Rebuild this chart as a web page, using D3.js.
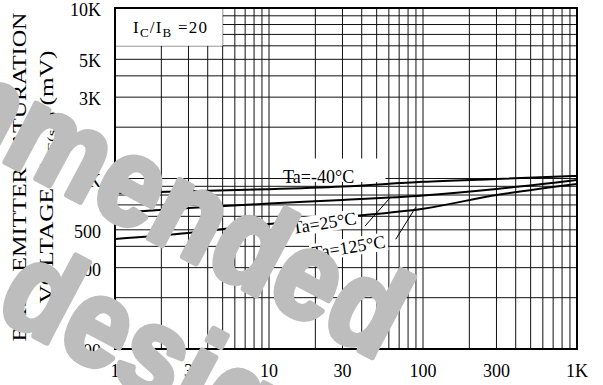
<!DOCTYPE html>
<html lang="en">
<head>
<meta charset="UTF-8">
<title>VBE(sat) - IC</title>
<style>
  body { margin: 0; background: #fff; }
  text { font-family: "Liberation Serif", "Times New Roman", serif; fill: #000; }
</style>
</head>
<body>
<div id="chart"></div>
<script src="https://d3js.org/d3.v7.min.js"></script>
<script>

// collector current (mA) where the curves were read
var currents = [1, 3, 10, 30, 100, 300, 1000];
// base-emitter saturation voltage (mV)
var vbeMinus40 = [822, 843, 865, 897, 957, 993, 1035];
var vbe25 = [628, 671, 713, 748, 795, 868, 980];
var vbe125 = [442, 479, 541, 595, 665, 800, 929];

var xTickValues = [1, 3, 10, 30, 100, 300, 1000];
var xTickLabels = ["1", "3", "10", "30", "100", "300", "1K"];
var yTickValues = [100, 300, 500, 1000, 3000, 5000, 10000];
var yTickLabels = ["100", "300", "500", "1K", "3K", "5K", "10K"];

var width = 603, height = 385;
var margin = {top: 8, right: 26, bottom: 36, left: 115};

var svg = d3.select("#chart").append("svg")
    .attr("width", width)
    .attr("height", height);

var x = d3.scaleLog().domain([1, 1000]).range([margin.left, width - margin.right]);
var y = d3.scaleLog().domain([100, 10000]).range([height - margin.bottom, margin.top]);

// 1..9 in every decade
function decadeValues(lo, hi) {
    var out = [];
    for (var d = lo; d < hi; d *= 10) {
        for (var k = 1; k < 10; k++) out.push(d * k);
    }
    out.push(hi);
    return out;
}

var grid = svg.append("g");
grid.selectAll("line.v")
    .data(decadeValues(1, 1000))
    .enter().append("line")
    .attr("class", "v")
    .attr("x1", function(d) { return x(d); })
    .attr("x2", function(d) { return x(d); })
    .attr("y1", y(10000))
    .attr("y2", y(100))
    .attr("stroke", "#111")
    .attr("stroke-width", 1);

grid.selectAll("line.h")
    .data(decadeValues(100, 10000))
    .enter().append("line")
    .attr("class", "h")
    .attr("y1", function(d) { return y(d); })
    .attr("y2", function(d) { return y(d); })
    .attr("x1", x(1))
    .attr("x2", x(1000))
    .attr("stroke", "#111")
    .attr("stroke-width", 1);

// condition box in the top left corner
svg.append("rect")
    .attr("x", x(1) + 1)
    .attr("y", y(10000) + 1)
    .attr("width", x(5) - x(1) - 1)
    .attr("height", y(6000) - y(10000) - 1)
    .attr("fill", "#fff");

var cond = svg.append("text")
    .attr("x", x(1) + 18)
    .attr("y", y(10000) + 25)
    .attr("font-size", 17)
    .attr("textLength", 74)
    .attr("lengthAdjust", "spacing");
cond.append("tspan").text("I");
cond.append("tspan").attr("font-size", 13).attr("dy", 4).text("C");
cond.append("tspan").attr("dy", -4).text("/I");
cond.append("tspan").attr("font-size", 13).attr("dy", 4).text("B");
cond.append("tspan").attr("dy", -4).text(" =20");

// curves
var series = [vbeMinus40, vbe25, vbe125];
var line = d3.line()
    .x(function(d) { return x(d[0]); })
    .y(function(d) { return y(d[1]); })
    .curve(d3.curveMonotoneX);

svg.selectAll("path.curve")
    .data(series)
    .enter().append("path")
    .attr("class", "curve")
    .attr("d", function(s) { return line(currents.map(function(c, i) { return [c, s[i]]; })); })
    .attr("fill", "none")
    .attr("stroke", "#000")
    .attr("stroke-width", 2);

// curve labels
var lab40 = svg.append("g");
lab40.append("rect")
    .attr("x", x(14.5)).attr("y", y(1310))
    .attr("width", x(57) - x(14.5)).attr("height", y(955) - y(1310))
    .attr("fill", "#fff");
lab40.append("text")
    .attr("x", x(21)).attr("y", y(935))
    .attr("text-anchor", "middle")
    .attr("font-size", 18)
    .text("Ta=-40°C");

function tiltedLabel(txt, cx, cy) {
    var g = svg.append("g")
        .attr("transform", "translate(" + x(cx) + "," + y(cy) + ") rotate(-9)");
    var bg = g.append("rect").attr("fill", "#fff");
    var t = g.append("text").attr("font-size", 18).text(txt);
    var b = t.node().getBBox();
    bg.attr("x", b.x - 2).attr("y", b.y + 1).attr("width", b.width + 4).attr("height", b.height - 2);
}
tiltedLabel("Ta=25°C", 14.3, 472);
tiltedLabel("Ta=125°C", 19.3, 337);

// leader lines: [from IC, from V, to IC, to V]
var leaders = [[42, 526, 61, 769], [66.5, 440, 89.7, 678]];
svg.selectAll("line.leader")
    .data(leaders)
    .enter().append("line")
    .attr("x1", function(d) { return x(d[0]); })
    .attr("y1", function(d) { return y(d[1]); })
    .attr("x2", function(d) { return x(d[2]); })
    .attr("y2", function(d) { return y(d[3]); })
    .attr("stroke", "#000")
    .attr("stroke-width", 1);

// frame
svg.append("rect")
    .attr("x", x(1)).attr("y", y(10000))
    .attr("width", x(1000) - x(1)).attr("height", y(100) - y(10000))
    .attr("fill", "none")
    .attr("stroke", "#000")
    .attr("stroke-width", 2);

// tick labels
svg.selectAll("text.xt")
    .data(xTickValues)
    .enter().append("text")
    .attr("class", "xt")
    .attr("x", function(d) { return x(d); })
    .attr("y", 377)
    .attr("text-anchor", "middle")
    .attr("font-size", 18)
    .text(function(d, i) { return xTickLabels[i]; });

svg.selectAll("text.yt")
    .data(yTickValues)
    .enter().append("text")
    .attr("class", "yt")
    .attr("x", 101)
    .attr("y", function(d) { return y(d) + 8; })
    .attr("text-anchor", "end")
    .attr("font-size", 18)
    .text(function(d, i) { return yTickLabels[i]; });

// axis title, two lines, stretched like the original
svg.append("text")
    .attr("transform", "translate(26,177) rotate(-90)")
    .attr("text-anchor", "middle")
    .attr("font-size", 18)
    .attr("textLength", 329)
    .attr("lengthAdjust", "spacingAndGlyphs")
    .text("BASE-EMITTER SATURATION");

var t2 = svg.append("text")
    .attr("transform", "translate(53,177) rotate(-90)")
    .attr("text-anchor", "middle")
    .attr("font-size", 18)
    .attr("textLength", 253)
    .attr("lengthAdjust", "spacingAndGlyphs");
t2.append("tspan").text("VOLTAGE V");
t2.append("tspan").attr("font-size", 12).attr("dy", 3).text("BE(sat)");
t2.append("tspan").attr("dy", -3).text(" (mV)");

// watermark over everything
var wm = svg.append("g")
    .attr("transform", "translate(-493,-103) rotate(28) scale(0.9,1)");
[["Not recommended", 0, 0], ["for new design", 215, 140]].forEach(function(w) {
    wm.append("text")
        .attr("x", w[1]).attr("y", w[2])
        .style("font-family", "'Liberation Sans', Arial, sans-serif")
        .style("fill", "#bdbdbd")
        .style("stroke", "#bdbdbd")
        .style("stroke-width", 6)
        .style("stroke-linejoin", "round")
        .attr("font-weight", "bold")
        .attr("font-size", 125)
        .text(w[0]);
});

</script>
</body>
</html>
